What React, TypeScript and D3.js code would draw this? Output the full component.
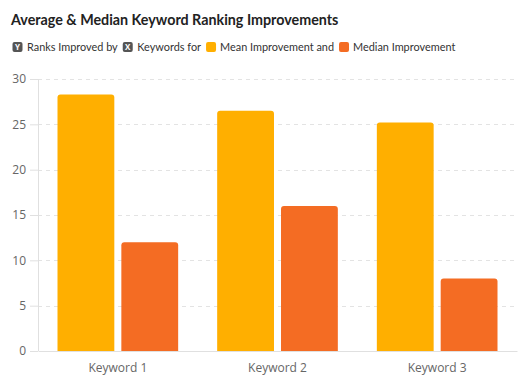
import React, { useRef, useEffect } from 'react';
import * as d3 from 'd3';

const categories = ['Keyword 1', 'Keyword 2', 'Keyword 3'];
const meanImprovement = [28.3, 26.5, 25.2];
const medianImprovement = [12, 16, 8];
const yTicks = [0, 5, 10, 15, 20, 25, 30];
const seriesNames = ['Mean Improvement', 'Median Improvement'];
const seriesColors = ['#FFAF00', '#F46C23'];

const W = 527;
const H = 387;

// path for a bar with rounded top corners only
const barPath = (x: number, y: number, w: number, h: number, r: number) => {
  const rr = Math.min(r, h / 2, w / 2);
  return `M${x},${y + h}V${y + rr}Q${x},${y} ${x + rr},${y}H${x + w - rr}Q${x + w},${y} ${x + w},${y + rr}V${y + h}Z`;
};

const App = () => {
  const ref = useRef<SVGSVGElement | null>(null);

  useEffect(() => {
    if (!ref.current) return;
    const svg = d3.select(ref.current);
    svg.selectAll('*').remove();

    const font = "'Open Sans', 'Noto Sans', sans-serif";
    const titleFont = "Lato, 'Open Sans', sans-serif";
    const margin = { top: 79, right: 10, bottom: 36, left: 38 };
    const plotW = W - margin.left - margin.right;
    const plotH = H - margin.top - margin.bottom;

    // Title
    svg
      .append('text')
      .attr('x', 11)
      .attr('y', 24.5)
      .attr('font-family', titleFont)
      .attr('font-size', 14.3)
      .attr('font-weight', 700)
      .attr('fill', '#222')
      .text('Average & Median Keyword Ranking Improvements');

    // Legend, laid out left to right
    const legend = svg.append('g').attr('transform', 'translate(12.5, 42)');
    const items: { kind: 'icon' | 'swatch' | 'text'; value: string }[] = [
      { kind: 'icon', value: 'Y' },
      { kind: 'text', value: 'Ranks Improved by' },
      { kind: 'icon', value: 'X' },
      { kind: 'text', value: 'Keywords for' },
      { kind: 'swatch', value: seriesColors[0] },
      { kind: 'text', value: seriesNames[0] + ' and' },
      { kind: 'swatch', value: seriesColors[1] },
      { kind: 'text', value: seriesNames[1] },
    ];
    let lx = 0;
    items.forEach((it) => {
      if (it.kind === 'text') {
        const t = legend
          .append('text')
          .attr('x', lx)
          .attr('y', 9.3)
          .attr('font-family', titleFont)
          .attr('font-size', 10.9)
          .attr('fill', '#333')
          .text(it.value);
        lx += (t.node() as SVGTextElement).getComputedTextLength() + 5;
      } else if (it.kind === 'icon') {
        legend
          .append('rect')
          .attr('x', lx)
          .attr('y', 0)
          .attr('width', 10)
          .attr('height', 10)
          .attr('rx', 2)
          .attr('fill', '#555');
        legend
          .append('text')
          .attr('x', lx + 5)
          .attr('y', 8.3)
          .attr('text-anchor', 'middle')
          .attr('font-family', font)
          .attr('font-size', 8)
          .attr('font-weight', 700)
          .attr('fill', '#fff')
          .text(it.value);
        lx += 14.5;
      } else {
        legend
          .append('rect')
          .attr('x', lx)
          .attr('y', 0)
          .attr('width', 10)
          .attr('height', 10)
          .attr('rx', 2)
          .attr('fill', it.value);
        lx += 14;
      }
    });

    const g = svg.append('g').attr('transform', `translate(${margin.left},${margin.top})`);

    const x0 = d3.scaleBand().domain(categories).range([0, plotW]).paddingInner(0).paddingOuter(0);
    const x1 = d3
      .scaleBand()
      .domain(seriesNames)
      .range([19.5, x0.bandwidth() - 19.5])
      .paddingInner(0.11);
    const y = d3.scaleLinear().domain([0, 30]).range([plotH, 0]);

    // grid lines
    g.append('g')
      .selectAll('line')
      .data(yTicks.filter((d) => d > 0))
      .join('line')
      .attr('x1', 0)
      .attr('x2', plotW)
      .attr('y1', (d) => Math.round(y(d)) + 0.5)
      .attr('y2', (d) => Math.round(y(d)) + 0.5)
      .attr('stroke', '#e3e3e3')
      .attr('stroke-dasharray', '4,4');

    // y axis
    const yAxis = g
      .append('g')
      .call(d3.axisLeft(y).tickValues(yTicks).tickSize(8).tickPadding(4));
    yAxis.select('.domain').remove();
    yAxis.selectAll('line').attr('stroke', '#e0e0e0');
    yAxis
      .selectAll('text')
      .attr('font-family', font)
      .attr('font-size', 12)
      .attr('fill', '#666');
    g.append('line')
      .attr('x1', 0.5)
      .attr('x2', 0.5)
      .attr('y1', 0)
      .attr('y2', plotH)
      .attr('stroke', '#e0e0e0');

    // bars
    const groups = g
      .append('g')
      .selectAll('g')
      .data(categories)
      .join('g')
      .attr('transform', (d) => `translate(${x0(d)},0)`);
    groups
      .selectAll('path')
      .data((d, i) => [
        { key: seriesNames[0], value: meanImprovement[i], color: seriesColors[0] },
        { key: seriesNames[1], value: medianImprovement[i], color: seriesColors[1] },
      ])
      .join('path')
      .attr('d', (d) =>
        barPath(x1(d.key) as number, y(d.value), x1.bandwidth(), plotH - y(d.value), 3)
      )
      .attr('fill', (d) => d.color);

    // x axis
    const xAxis = g
      .append('g')
      .attr('transform', `translate(0,${plotH})`)
      .call(d3.axisBottom(x0).tickSize(0).tickPadding(12));
    xAxis.select('.domain').attr('stroke', '#e0e0e0');
    xAxis
      .selectAll('text')
      .attr('font-family', font)
      .attr('font-size', 12)
      .attr('fill', '#666');
  }, []);

  return (
    <svg
      ref={ref}
      width={W}
      height={H}
      style={{ position: 'absolute', left: 0, top: 0, background: '#fff' }}
    />
  );
};

export default App;
